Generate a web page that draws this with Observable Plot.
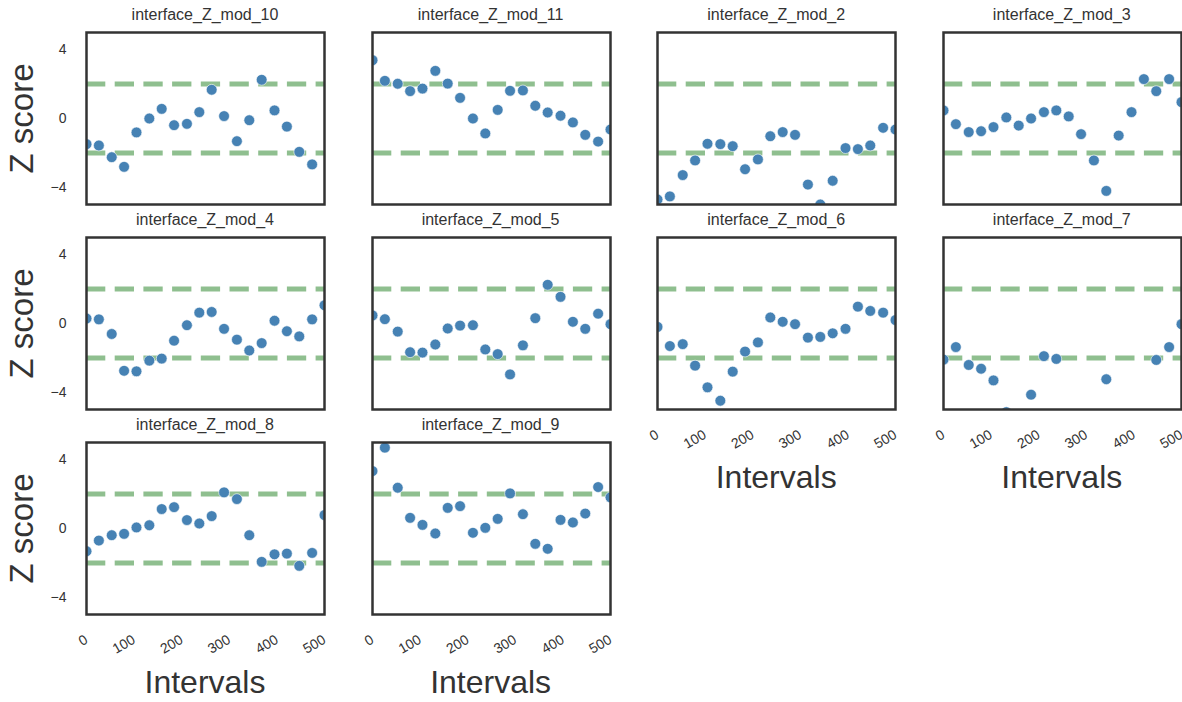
<!DOCTYPE html>
<html><head><meta charset="utf-8">
<script src="https://cdn.jsdelivr.net/npm/d3@7"></script>
<script src="https://cdn.jsdelivr.net/npm/@observablehq/plot@0.6"></script>
<style>
html,body{margin:0;padding:0;background:#fff;overflow:hidden;}
#chart{position:relative;width:1182px;height:702px;font-family:"Liberation Sans",Arial,sans-serif;color:#333;}
.ttl{position:absolute;width:238px;text-align:center;font-size:16px;line-height:20px;white-space:nowrap;}
.ylab{position:absolute;width:200px;text-align:center;font-size:33px;line-height:33px;transform:rotate(-90deg);white-space:nowrap;}
.xlab{position:absolute;width:238px;text-align:center;font-size:32px;line-height:32px;white-space:nowrap;}
.panel{position:absolute;}
</style></head><body><div id="chart"></div><script>
// ---- data ----
const intervals = [0, 26, 53, 79, 105, 132, 158, 184, 211, 237, 263, 289, 316, 342, 368, 395, 421, 447, 474, 500];
const panelNames = ["interface_Z_mod_10","interface_Z_mod_11","interface_Z_mod_2","interface_Z_mod_3",
  "interface_Z_mod_4","interface_Z_mod_5","interface_Z_mod_6","interface_Z_mod_7",
  "interface_Z_mod_8","interface_Z_mod_9"];
const mod10 = [-1.49,-1.57,-2.25,-2.81,-0.81,0.0,0.56,-0.39,-0.31,0.37,1.67,0.14,-1.32,-0.10,2.25,0.47,-0.47,-1.94,-2.67,null];
const mod11 = [3.39,2.19,2.02,1.59,1.74,2.77,2.03,1.20,0.0,-0.87,0.50,1.61,1.63,0.74,0.35,0.16,-0.23,-0.95,-1.34,-0.64];
const mod2  = [-4.71,-4.53,-3.29,-2.44,-1.47,-1.49,-1.61,-2.95,-2.38,-1.03,-0.79,-0.95,-3.84,-5.0,-3.62,-1.72,-1.78,-1.57,-0.54,-0.64];
const mod3  = [0.47,-0.33,-0.79,-0.74,-0.50,0.06,-0.41,0.0,0.37,0.47,0.12,-0.91,-2.44,-4.21,-0.99,0.37,2.29,1.59,2.29,0.95];
const mod4  = [0.29,0.24,-0.61,-2.75,-2.78,-2.16,-2.04,-1.0,-0.10,0.63,0.67,-0.31,-0.94,-1.57,-1.14,0.16,-0.45,-0.75,0.24,1.06];
const mod5  = [0.47,0.25,-0.47,-1.67,-1.69,-1.22,-0.29,-0.12,-0.10,-1.51,-1.78,-2.96,-1.27,0.31,2.25,1.55,0.10,-0.31,0.57,-0.04];
const mod6  = [-0.20,-1.31,-1.20,-2.45,-3.71,-4.49,-2.80,-1.63,-1.10,0.35,0.10,-0.04,-0.82,-0.78,-0.57,-0.31,0.98,0.73,0.63,0.20];
const mod7  = [-2.10,-1.37,-2.41,-2.63,-3.31,-5.15,null,-4.14,-1.90,-2.06,null,null,null,-3.24,null,null,-5.3,-2.12,-1.37,-0.04];
const mod8  = [-1.32,-0.70,-0.39,-0.31,0.06,0.19,1.13,1.24,0.49,0.29,0.72,2.10,1.71,-0.39,-1.94,-1.50,-1.46,-2.17,-1.42,0.78];
const mod9  = [3.34,4.70,2.37,0.62,0.21,-0.29,1.20,1.30,-0.25,0.04,0.56,2.04,0.83,-0.89,-1.18,0.50,0.35,0.87,2.41,1.81];
const panelValues = [mod10, mod11, mod2, mod3, mod4, mod5, mod6, mod7, mod8, mod9];
const guideLevels = [-2, 2];
const yTicks = [-4, 0, 4];
const xTicks = [0, 100, 200, 300, 400, 500];
const yLabel = "Z score";
const xLabel = "Intervals";

// ---- layout ----
const chart = document.getElementById("chart");
const W = 238, H = 172;
const mL = 40, mR = 1, mT = 6, mB = 50;
const colX = c => 86 + 285.6 * c;
const rowY = r => 32 + 205.2 * r;
const bottomPanels = new Set([6, 7, 8, 9]);
const fmt = d => d < 0 ? "\u2212" + Math.abs(d) : String(d);

function addDiv(cls, text, left, top) {
  const d = document.createElement("div");
  d.className = cls; d.textContent = text;
  d.style.left = left + "px"; d.style.top = top + "px";
  chart.appendChild(d);
  return d;
}

panelNames.forEach((name, k) => {
  const row = Math.floor(k / 4), col = k % 4;
  const fl = colX(col), ft = rowY(row);
  const isLeft = col === 0, isBottom = bottomPanels.has(k);
  const data = intervals.map((x, i) => ({x, z: panelValues[k][i]})).filter(d => d.z != null);
  const marks = [
    Plot.ruleY(guideLevels, {stroke: "#8fbf8f", strokeWidth: 5, strokeDasharray: "19.3,9.4"}),
    Plot.dot(data, {x: "x", y: "z", r: 5.4, fill: "#4682b4", stroke: "white", strokeWidth: 0.6, clip: true}),
    Plot.frame({stroke: "#333", strokeWidth: 2.5})
  ];
  if (isLeft) marks.push(Plot.axisY(yTicks, {tickSize: 0, tickPadding: 20, tickFormat: fmt, fontSize: 14, fill: "#333", label: null}));
  if (isBottom) marks.push(Plot.axisX(xTicks, {tickSize: 0, tickPadding: 24, tickRotate: -30, fontSize: 14, fill: "#333", label: null}));
  const svg = Plot.plot({
    width: W + mL + mR, height: H + mT + mB,
    marginLeft: mL, marginRight: mR, marginTop: mT, marginBottom: mB,
    style: {background: "transparent", overflow: "visible", fontFamily: '"Liberation Sans", Arial, sans-serif', fontSize: "14px", color: "#333"},
    x: {domain: [0, 500], axis: isBottom ? undefined : null},
    y: {domain: [-5, 5], axis: isLeft ? undefined : null},
    marks
  });
  svg.querySelectorAll('g[aria-label$="tick label"]').forEach(g => g.setAttribute("font-size", "14"));
  const wrap = document.createElement("div");
  wrap.className = "panel";
  wrap.style.left = (fl - mL) + "px";
  wrap.style.top = (ft - mT) + "px";
  wrap.appendChild(svg);
  chart.appendChild(wrap);
  addDiv("ttl", name, fl, ft - 27.5);
  if (isLeft) addDiv("ylab", yLabel, 21 - 100, ft + H / 2 - 16.5);
  if (isBottom) addDiv("xlab", xLabel, fl, ft + H + 51.6);
});
</script></body></html>
